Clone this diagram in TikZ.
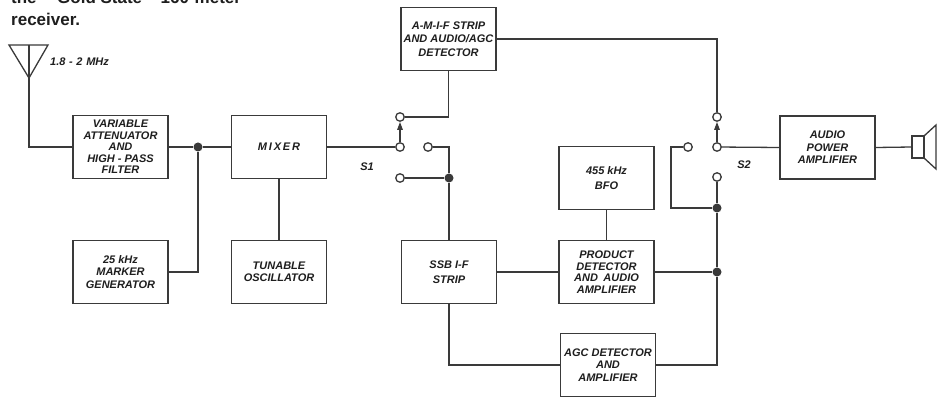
\documentclass[tikz,border=0pt]{standalone}
\usepackage{fontspec}
\setmainfont{Liberation Sans}
\usetikzlibrary{arrows.meta}
\definecolor{linec}{HTML}{3A3A3A}
\definecolor{txt}{HTML}{1E1E1E}
\begin{document}
\begin{tikzpicture}[x=1pt,y=-1pt,
  box/.style={draw=linec, line width=1.3pt, minimum width=95pt, minimum height=63pt, inner sep=1pt, align=center, text=txt, font=\fontsize{11}{12.5}\selectfont\bfseries\itshape},
  contact/.style={circle, draw=linec, fill=white, line width=1.3pt, minimum size=8.5pt, inner sep=0pt},
  jdot/.style={circle, fill=linec, minimum size=9pt, inner sep=0pt},
  wire/.style={draw=linec, line width=1.3pt},
  tip/.style={-{Triangle[length=8pt,width=5.5pt]}},
  lbl/.style={text=txt, inner sep=0pt, font=\fontsize{11}{12}\selectfont\bfseries\itshape}]
\useasboundingbox (0,0) rectangle (938,398);
\fill[white] (0,0) rectangle (938,398);
% caption fragment
\node[anchor=base west, inner sep=0pt, text=txt, font=\fontsize{17}{21}\selectfont\bfseries] (t1) at (11,3.5) {the\hspace{12pt}``Gold State''\hspace{10pt}160-meter};
\node[anchor=base west, inner sep=0pt, text=txt, font=\fontsize{17}{21}\selectfont\bfseries] (t2) at (11,26) {receiver.};
% antenna
\coordinate (ant) at (29,78);
\draw[wire, line join=miter] (9,45) -- (48,45) -- (ant) -- cycle;
\draw[wire] (29,45) -- (ant);
\node[lbl, anchor=west] (flbl) at (50,62) {1.8\,\,-\,\,2\,\,MHz};
% boxes
\node[box, font=\fontsize{11}{11.5}\selectfont\bfseries\itshape] (att) at (120.5,147) {VARIABLE\\ATTENUATOR\\AND\\HIGH - PASS\\FILTER};
\node[box] (mixer) at (279,147) {M\,I\,X\,E\,R};
\node[box] (marker) at (120.5,272) {25 kHz\\MARKER\\GENERATOR};
\node[box] (osc) at (279,272) {TUNABLE\\OSCILLATOR};
\node[box, font=\fontsize{11}{13.5}\selectfont\bfseries\itshape] (am) at (448.5,39) {A-M-I-F STRIP\\AND AUDIO/AGC\\DETECTOR};
\node[box, font=\fontsize{11}{15}\selectfont\bfseries\itshape] (ssb) at (449,272) {SSB I-F\\STRIP};
\node[box, font=\fontsize{11}{15}\selectfont\bfseries\itshape] (bfo) at (606.5,178) {455 kHz\\BFO};
\node[box, font=\fontsize{11}{11.5}\selectfont\bfseries\itshape] (prod) at (606.5,272) {PRODUCT\\DETECTOR\\AND\enspace AUDIO\\AMPLIFIER};
\node[box] (agc) at (608,365) {AGC DETECTOR\\AND\\AMPLIFIER};
\node[box] (audio) at (827.5,147.5) {AUDIO\\POWER\\AMPLIFIER};
% switch contacts
\node[contact] (s1c) at (400,147) {};
\node[contact] (s1u) at (400,117) {};
\node[contact] (s1r) at (428,147) {};
\node[contact] (s1l) at (400,178) {};
\node[contact] (s2c) at (717,147) {};
\node[contact] (s2u) at (717,117) {};
\node[contact] (s2l) at (688,147) {};
\node[contact] (s2d) at (717,177) {};
\node[lbl] (s1lbl) at (367,167) {S1};
\node[lbl] (s2lbl) at (744,165) {S2};
% junction dots
\node[jdot] (j1) at (198,147) {};
\node[jdot] (j2) at (449,178) {};
\node[jdot] (j3) at (717,208) {};
\node[jdot] (j4) at (717,272) {};
\coordinate (s2k) at (671,147);
% wires
\draw[wire] (ant) |- (att.west);
\draw[wire] (att.east) -- (j1) -- (mixer.west);
\draw[wire] (marker.east) -| (j1);
\draw[wire] (mixer.south) -- (osc.north);
\draw[wire] (mixer.east) -- (s1c);
\draw[wire] (am.south) |- (s1u);
\draw[wire, tip] (s1c) -- (s1u);
\draw[wire] (s1r) -| (j2);
\draw[wire] (s1l) -- (j2);
\draw[wire] (j2) -- (ssb.north);
\draw[wire] (ssb.east) -- (prod.west);
\draw[wire] (bfo.south) -- (prod.north);
\draw[wire] (ssb.south) |- (agc.west);
\draw[wire] (prod.east) -- (j4);
\draw[wire] (agc.east) -| (j4);
\draw[wire] (j4) -- (j3);
\draw[wire] (j3) -- (s2d);
\draw[wire] (s2l) -- (s2k) |- (j3);
\draw[wire] (am.east) -| (s2u);
\draw[wire, tip] (s2c) -- (s2u);
\draw[wire] (s2c) -- (audio.west);
% speaker
\coordinate (spk) at (912,147);
\draw[wire] (audio.east) -- (spk);
\draw[wire] (912,136) rectangle (924,158);
\draw[wire, line join=miter] (924,136) -- (936,125) -- (936,169) -- (924,158);
\end{tikzpicture}
\end{document}
